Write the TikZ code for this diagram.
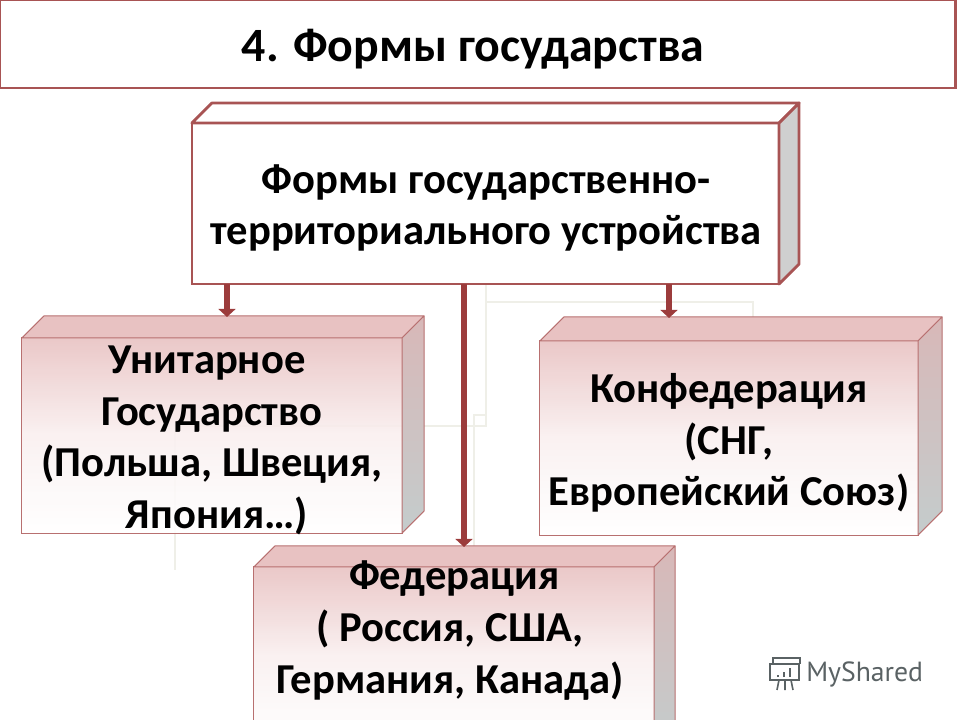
\documentclass[tikz,border=0pt]{standalone}
\usepackage{fontspec}
\setmainfont{Carlito}
\newfontfamily\wmfont{PT Sans}
\usetikzlibrary{arrows.meta, positioning, calc}
\definecolor{boxred}{HTML}{A85454}
\definecolor{thinred}{HTML}{B87070}
\definecolor{arrowred}{HTML}{9C3C3C}
\definecolor{pinktop}{HTML}{E8C2C2}
\definecolor{faintline}{HTML}{EFEFE8}
\definecolor{wmgrey}{HTML}{5A6264}
\definecolor{sidegrey}{HTML}{CFCFCF}
\definecolor{sidepink}{HTML}{D8B8B8}
\definecolor{sideblue}{HTML}{C4CCCC}
% top and side faces of a box: name, depth, border colour, top fill, side colours
\newcommand{\boxfaces}[6]{
  \draw[#3, fill=#4, line join=round] (#1.north west) -- ++(#2,-#2) -- ($(#1.north east)+(#2,-#2)$) -- (#1.north east) -- cycle;
  \shade[top color=#5, bottom color=#6] (#1.north east) -- ++(#2,-#2) -- ($(#1.south east)+(#2,-#2)$) -- (#1.south east) -- cycle;
  \draw[#3, line join=round] (#1.north east) -- ++(#2,-#2) -- ($(#1.south east)+(#2,-#2)$) -- (#1.south east) -- cycle;
}
\begin{document}
\begin{tikzpicture}[x=0.025cm, y=-0.025cm,
    headbox/.style={draw=boxred, line width=0.07cm, fill=white, outer sep=0pt, minimum width=23.875cm, minimum height=2.2cm},
    mainbox/.style={draw=boxred, line width=0.07cm, fill=white, outer sep=0pt, minimum width=14.675cm, minimum height=4.025cm},
    formbox/.style={draw=thinred, line width=0.025cm, top color=pinktop, bottom color=white, middle color=white!75!pinktop,
                    fill opacity=0.9, outer sep=0pt, inner sep=0pt},
    boxtext/.style={align=center, inner sep=0pt, font=\fontsize{30.3}{36.8}\selectfont\bfseries},
    arrow/.style={-{Triangle[length=0.2cm, width=0.42cm]}, line width=0.16cm, arrowred},
    faint/.style={faintline, line width=0.06cm}
  ]
    \clip (0,0) rectangle (960,720);

    % Faint lines behind the boxes
    \draw[faint] (486,285) -- (486,426) -- (175,426) -- (175,570);
    \draw[faint] (486,302) -- (753,302) -- (753,318);
    \draw[faint] (486,415) -- (474,415) -- (474,546);

    % Title
    \node[headbox] (title) at (477.5,44) {};
    \node[font=\fontsize{34}{40}\selectfont\bfseries] (titletext) at (473,49) {4. Формы государства};

    % Top box
    \node[mainbox] (forms) at (485.5,203.5) {};
    \boxfaces{forms}{20}{boxred, line width=0.07cm}{white}{sidegrey}{sidegrey}
    \node[boxtext] (formstext) at (486,208) {Формы государственно-\\территориального устройства};

    % Lower boxes
    \node[formbox, minimum width=9.5cm, minimum height=4.875cm] (unitary) at (212,435.5) {};
    \boxfaces{unitary}{22}{thinred, line width=0.025cm}{pinktop}{sidepink}{sideblue}
    \node[boxtext] (unitarytext) at (212,440.5) {Унитарное\hspace*{7pt}\\Государство\\(Польша, Швеция,\\\hspace*{7pt}Япония…)};

    \node[formbox, minimum width=9.45cm, minimum height=4.85cm] (confed) at (729,438) {};
    \boxfaces{confed}{24}{thinred, line width=0.025cm}{pinktop}{sidepink}{sideblue}
    \node[boxtext] (confedtext) at (729,443) {Конфедерация\\(СНГ,\\Европейский Союз)};

    \node[formbox, minimum width=10cm, minimum height=4.5cm] (federation) at (454,657) {};
    \boxfaces{federation}{21}{thinred, line width=0.025cm}{pinktop}{sidepink}{sideblue}
    \node[boxtext] (fedtext) at (450,630.5) {\hspace*{6pt}Федерация\\( Россия, США,\\Германия, Канада)};

    % Arrows
    \coordinate (unitarytop) at (227,317);
    \coordinate (confedtop) at (669,318);
    \coordinate (fedtop) at (464,547);
    \draw[arrow] (forms.south -| unitarytop) -- (unitarytop);
    \draw[arrow] (forms.south -| confedtop) -- (confedtop);
    \draw[arrow] (forms.south -| fedtop) -- (fedtop);

    % Watermark
    \node[wmgrey, anchor=west, inner sep=0pt, font=\fontsize{19.7}{23}\wmfont] (myshared) at (806,674) {MyShared};
    \draw[wmgrey, line width=0.04cm] (770,664) rectangle (799,680);
    \draw[wmgrey, line width=0.04cm] (773,664) -- (773,658) -- (800,658) -- (800,664);
    \draw[wmgrey, line width=0.04cm] (779,680) -- (777,690) (785,680) -- (785,690) (791,680) -- (793,690);
    \draw[wmgrey, line width=0.06cm] (778,677) -- (778,675) (784,677) -- (784,672) (790,677) -- (790,668);
  \end{tikzpicture}
\end{document}
